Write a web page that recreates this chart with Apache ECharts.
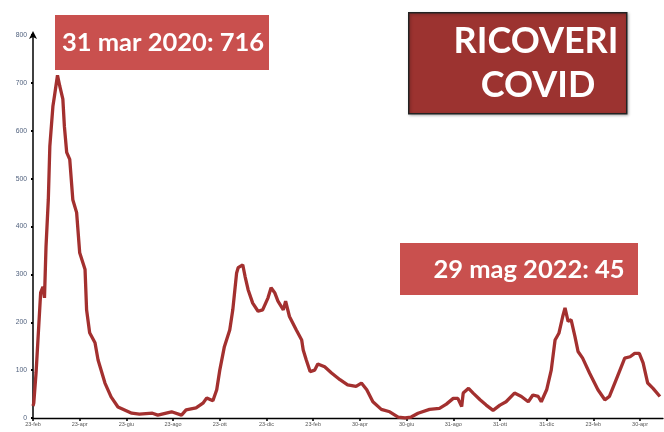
<!DOCTYPE html>
<html>
<head>
<meta charset="utf-8">
<script src="https://cdn.jsdelivr.net/npm/echarts@6/dist/echarts.min.js"></script>
<style>html,body{margin:0;padding:0;background:#fff}#c{width:664px;height:432px}</style>
</head>
<body>
<div id="c"></div>
<script>
// Day index (from first tick) and hospitalised patients
const days = [0,1,4,10,13,15,17,20,22,26,28,32,35,39,41,44,48,52,57,61,68,70,74,81,85,94,102,111,129,139,156,163,181,194,200,213,222,227,235,240,244,250,257,261,266,268,274,277,281,287,294,300,307,311,316,320,327,330,335,344,351,353,357,362,368,372,381,390,401,411,422,429,436,444,455,466,477,486,494,503,518,531,540,549,555,560,562,569,575,584,592,601,610,618,629,638,647,653,660,664,671,677,682,687,692,695,699,703,708,712,718,727,738,747,753,760,766,773,780,786,792,797,803,810,819];
const values = [25,31,94,262,274,251,358,456,568,651,672,716,693,666,609,555,540,456,429,345,310,226,178,157,121,73,44,23,10,8,10,6,13,6,17,21,31,42,36,59,100,149,184,226,303,314,320,296,268,240,223,226,251,272,261,244,226,244,212,184,163,142,121,97,100,113,107,94,80,69,66,73,59,34,18,13,2,0,2,10,18,20,29,41,41,24,52,62,52,38,27,16,27,34,52,45,34,48,45,34,59,100,163,177,212,230,202,205,170,139,125,94,59,38,45,73,97,125,128,135,135,115,73,62,45];
const tickDays = [0,61,122,183,244,305,366,427,488,549,610,671,732,793];
const tickLabels = ['23-feb','23-apr','23-giu','23-ago','23-ott','23-dic','23-feb','30-apr','30-giu','31-ago','31-ott','31-dic','23-feb','30-apr'];
const peakText = '31 mar 2020: 716';
const lastText = '29 mag 2022: 45';
const titleLines = ['RICOVERI','COVID'];

const chart = echarts.init(document.getElementById('c'));
const labelMap = {};
tickDays.forEach((d,i)=>labelMap[d]=tickLabels[i]);

chart.setOption({
  animation:false,
  grid:{left:33,right:1,top:35,bottom:14,containLabel:false},
  xAxis:{
    type:'value',min:0,max:823,
    splitLine:{show:false},
    axisLine:{show:true,lineStyle:{color:'#000',width:1.3}},
    axisTick:{show:true,customValues:tickDays,length:3,inside:false,lineStyle:{color:'#000',width:1.5}},
    axisLabel:{customValues:tickDays,formatter:v=>labelMap[v]||'',fontSize:5.5,color:'#555',margin:3,fontFamily:'Arial, Liberation Sans'}
  },
  yAxis:{
    type:'value',min:0,max:800,interval:100,
    splitLine:{show:false},
    axisLine:{show:true,symbol:['none','arrow'],symbolSize:[6,8],symbolOffset:[0,4],lineStyle:{color:'#000',width:1.5}},
    axisTick:{show:true,length:2,lineStyle:{color:'#000',width:2}},
    axisLabel:{fontSize:6.8,color:'#4e5f7c',margin:6,fontFamily:'Arial, Liberation Sans'}
  },
  series:[{
    type:'line',
    data:days.map((d,i)=>[d,values[i]]),
    showSymbol:false,
    smooth:false,
    lineStyle:{color:'#a3302f',width:3.3},
    z:2
  }],
  graphic:[
    {type:'rect',left:55,top:15,shape:{width:214,height:55},style:{fill:'#c9504e'},z:10},
    {type:'text',x:163,y:43,style:{text:peakText,fill:'#fff',font:'bold 25.5px Lato, "Open Sans", sans-serif',align:'center',verticalAlign:'middle'},z:11},
    {type:'rect',left:400,top:243,shape:{width:238,height:52},style:{fill:'#c9504e'},z:10},
    {type:'text',x:529,y:270,style:{text:lastText,fill:'#fff',font:'bold 25.5px Lato, "Open Sans", sans-serif',align:'center',verticalAlign:'middle'},z:11},
    {type:'rect',left:408,top:12,shape:{width:218,height:101},style:{fill:'#9c3330',stroke:'#222',lineWidth:1.5,shadowBlur:3,shadowColor:'rgba(0,0,0,0.3)',shadowOffsetX:1,shadowOffsetY:1},z:10},
    {type:'text',x:536,y:41,style:{text:titleLines[0],fill:'#fff',font:'bold 36px Lato, "Open Sans", sans-serif',align:'center',verticalAlign:'middle'},z:11},
    {type:'text',x:538,y:85,style:{text:titleLines[1],fill:'#fff',font:'bold 36px Lato, "Open Sans", sans-serif',align:'center',verticalAlign:'middle'},z:11}
  ]
});
</script>
</body>
</html>
